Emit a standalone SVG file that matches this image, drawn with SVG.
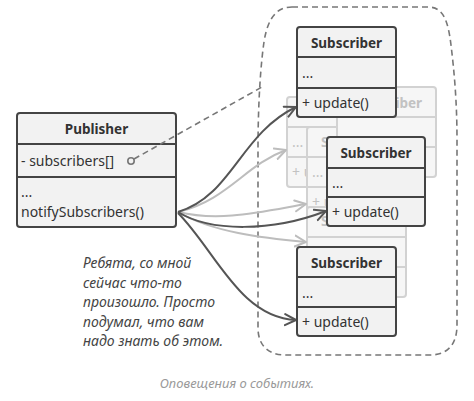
<svg xmlns="http://www.w3.org/2000/svg" width="474" height="401" viewBox="0 0 474 401">
<defs>
<style>
.box{fill:#f2f2f2;stroke:#444;stroke-width:2}
.div{stroke:#444;stroke-width:2}
.fbox{fill:#f6f6f6;stroke:#d2d2d2;stroke-width:2}
.fdiv{stroke:#d2d2d2;stroke-width:2}
.t{font-family:"Noto Sans","Liberation Sans",sans-serif;font-size:14px;fill:#333}
.h{font-family:"Noto Sans","Liberation Sans",sans-serif;font-size:13.5px;font-weight:bold;fill:#333;text-anchor:middle}
.ft{font-family:"Noto Sans","Liberation Sans",sans-serif;font-size:14px;fill:#c2c2c2}
.fh{font-family:"Noto Sans","Liberation Sans",sans-serif;font-size:13.5px;font-weight:bold;fill:#c2c2c2;text-anchor:middle}
.dark{fill:none;stroke:#555;stroke-width:2}
.light{fill:none;stroke:#bdbdbd;stroke-width:2}
.dash{fill:none;stroke:#777;stroke-width:1.6;stroke-dasharray:6 4}
.note{font-family:"Noto Sans","Liberation Sans",sans-serif;font-size:14px;font-style:italic;fill:#444}
.cap{font-family:"Noto Sans","Liberation Sans",sans-serif;font-size:13px;font-style:italic;fill:#999;text-anchor:middle}
</style>
<marker id="ad" viewBox="0 0 14 14" refX="12" refY="7" markerWidth="14" markerHeight="14" markerUnits="userSpaceOnUse" orient="auto">
<path d="M1,1.5 L12,7 L1,12.5" fill="none" stroke="#555" stroke-width="2" stroke-linecap="round" stroke-linejoin="round"/>
</marker>
<marker id="al" viewBox="0 0 14 14" refX="12" refY="7" markerWidth="14" markerHeight="14" markerUnits="userSpaceOnUse" orient="auto">
<path d="M1,1.5 L12,7 L1,12.5" fill="none" stroke="#bdbdbd" stroke-width="2" stroke-linecap="round" stroke-linejoin="round"/>
</marker>
</defs>
<rect width="474" height="401" fill="#fff"/>

<g id="container">
<path class="dash" d="M292,7 H428 C443,7 448,20 451,45 C454,70 457,100 457,140 V325 C457,345 447,355 430,355 H285 C268,355 258,345 258,328 V150 C258,100 261,62 264,42 C268,16 278,7 292,7 Z"/>
</g>

<g id="faded-subscribers">
<g id="faded2">
<rect class="fbox" x="287" y="97" width="99" height="90" rx="3"/>
<line class="fdiv" x1="287" y1="127" x2="386" y2="127"/>
<line class="fdiv" x1="287" y1="157" x2="386" y2="157"/>
<text class="ft" x="292" y="147">...</text>
<text class="ft" x="292" y="177">+ update()</text>
</g>
<g id="faded3">
<rect class="fbox" x="307" y="127" width="99" height="90" rx="3"/>
<line class="fdiv" x1="307" y1="157" x2="406" y2="157"/>
<line class="fdiv" x1="307" y1="187" x2="406" y2="187"/>
<text class="fh" x="356.5" y="147">Subscriber</text>
<text class="ft" x="312" y="177">...</text>
<text class="ft" x="312" y="207">+ update()</text>
</g>
<g id="faded4">
<rect class="fbox" x="307" y="207" width="99" height="90" rx="3"/>
<line class="fdiv" x1="307" y1="237" x2="406" y2="237"/>
<line class="fdiv" x1="307" y1="267" x2="406" y2="267"/>
<text class="fh" x="356.5" y="226">Subscriber</text>
</g>
<g id="faded1">
<rect class="fbox" x="337" y="87" width="99" height="90" rx="3"/>
<line class="fdiv" x1="337" y1="117" x2="436" y2="117"/>
<line class="fdiv" x1="337" y1="147" x2="436" y2="147"/>
<text class="fh" x="386.5" y="108">Subscriber</text>
</g>
</g>

<g id="publisher">
<rect class="box" x="17" y="113" width="159" height="114" rx="3"/>
<line class="div" x1="17" y1="144" x2="176" y2="144"/>
<line class="div" x1="17" y1="177" x2="176" y2="177"/>
<text class="h" x="96.5" y="134">Publisher</text>
<text class="t" x="21" y="166">- subscribers[]</text>
<text class="t" x="21" y="197">...</text>
<text class="t" x="21" y="217">notifySubscribers()</text>
</g>

<g id="connectors">
<path class="dash" d="M134,159 L262,87"/>
<circle cx="131" cy="161" r="3.2" fill="#f2f2f2" stroke="#777" stroke-width="1.6"/>
<path class="light" d="M178,212 C228,200 245,165 286,150" marker-end="url(#al)"/>
<path class="light" d="M178,212 C220,222 260,212 306,204" marker-end="url(#al)"/>
<path class="light" d="M178,212 C212,232 262,238 306,242" marker-end="url(#al)"/>
<path class="dark" d="M178,212 C232,196 240,134 296,107" marker-end="url(#ad)"/>
<path class="dark" d="M178,212 C210,232 272,232 326,211" marker-end="url(#ad)"/>
<path class="dark" d="M178,213 C215,250 240,318 296,320" marker-end="url(#ad)"/>
</g>

<g id="subscriber1">
<rect class="box" x="297" y="27" width="99" height="90" rx="3"/>
<line class="div" x1="297" y1="57" x2="396" y2="57"/>
<line class="div" x1="297" y1="88" x2="396" y2="88"/>
<text class="h" x="346.5" y="48">Subscriber</text>
<text class="t" x="302" y="78">...</text>
<text class="t" x="302" y="108">+ update()</text>
</g>

<g id="subscriber2">
<rect class="box" x="327" y="137" width="98" height="89" rx="3"/>
<line class="div" x1="327" y1="168" x2="425" y2="168"/>
<line class="div" x1="327" y1="197" x2="425" y2="197"/>
<text class="h" x="376" y="158">Subscriber</text>
<text class="t" x="332" y="188">...</text>
<text class="t" x="332" y="217">+ update()</text>
</g>

<g id="subscriber3">
<rect class="box" x="297" y="247" width="99" height="89" rx="3"/>
<line class="div" x1="297" y1="277" x2="396" y2="277"/>
<line class="div" x1="297" y1="307" x2="396" y2="307"/>
<text class="h" x="346.5" y="268">Subscriber</text>
<text class="t" x="302" y="298">...</text>
<text class="t" x="302" y="327">+ update()</text>
</g>

<g id="note">
<text class="note" x="83" y="268">Ребята, со мной</text>
<text class="note" x="83" y="287.5">сейчас что-то</text>
<text class="note" x="83" y="307">произошло. Просто</text>
<text class="note" x="83" y="326.5">подумал, что вам</text>
<text class="note" x="83" y="346">надо знать об этом.</text>
</g>

<text class="cap" x="237" y="388">Оповещения о событиях.</text>
</svg>
